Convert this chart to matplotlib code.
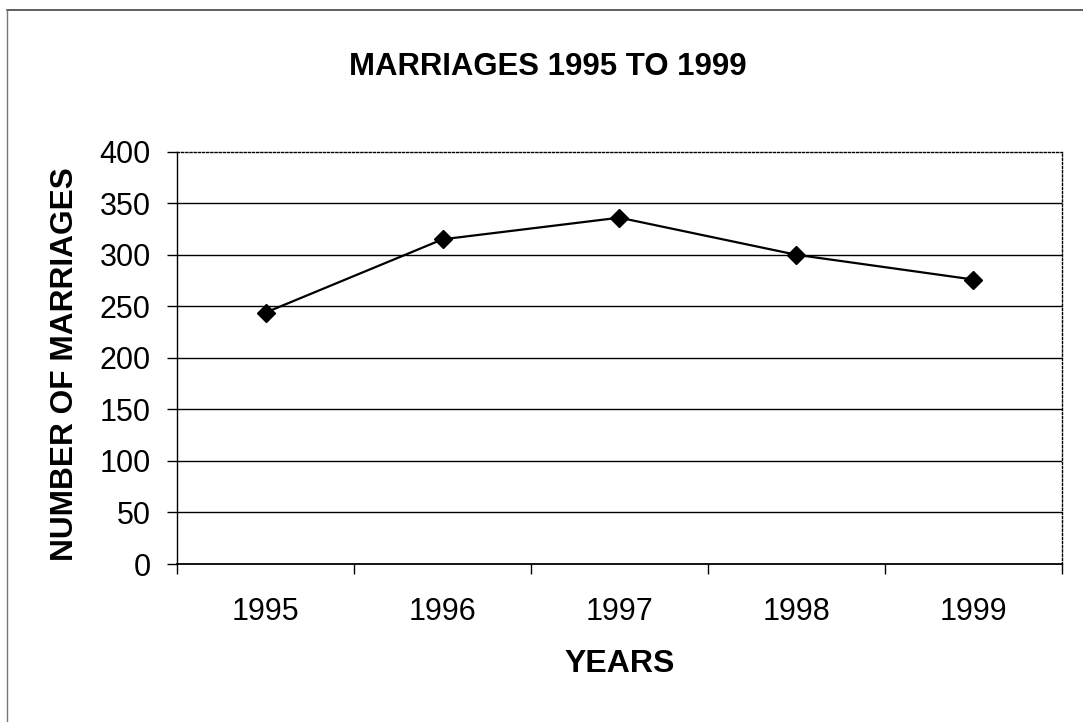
import matplotlib
matplotlib.use("Agg")
import matplotlib.pyplot as plt
from matplotlib.lines import Line2D
import numpy as np

years = ["1995", "1996", "1997", "1998", "1999"]
marriages = [244, 315, 336, 300, 276]
yticks = [0, 50, 100, 150, 200, 250, 300, 350, 400]

plt.rcParams['font.family'] = ['Liberation Sans', 'DejaVu Sans']

fig = plt.figure(figsize=(10.83, 7.22), dpi=100)
ax = fig.add_axes([0.1637, 0.2188, 0.8166, 0.5711])

x = np.arange(len(years))
ax.plot(x, marriages, color='black', lw=1.6, marker='D', ms=9.5, mfc='black', mec='black', zorder=3)

ax.set_xlim(-0.5, len(years) - 0.5)
ax.set_ylim(0, 400)
ax.set_yticks(yticks)
ax.set_yticklabels([str(v) for v in yticks], fontsize=22)
ax.tick_params(axis='y', direction='out', length=7.2, width=1, pad=12)

ax.set_xticks(x)
ax.set_xticklabels(years, fontsize=22)
ax.tick_params(axis='x', which='major', length=0, pad=23.5)
ax.set_xticks(np.arange(len(years) + 1) - 0.5, minor=True)
ax.tick_params(axis='x', which='minor', direction='out', length=7.2, width=1)

for v in yticks[1:-1]:
    ax.axhline(v, color='black', lw=1.0, zorder=1)

ax.spines['top'].set_linestyle((0, (1.5, 1.5)))
ax.spines['right'].set_linestyle((0, (1.5, 1.5)))
ax.spines['top'].set_linewidth(1.0)
ax.spines['right'].set_linewidth(1.0)
ax.spines['left'].set_linewidth(1.0)
ax.spines['bottom'].set_linewidth(1.3)

fig.text(0.506, 0.907, "MARRIAGES 1995 TO 1999", ha='center', va='center', fontsize=22.4, fontweight='bold')
fig.text(0.572, 0.08, "YEARS", ha='center', va='center', fontsize=23, fontweight='bold')
fig.text(0.06, 0.495, "NUMBER OF MARRIAGES", ha='center', va='center', rotation=90, fontsize=22.8, fontweight='bold')

# outer chart border (top and left visible)
fig.add_artist(Line2D([7 / 1083, 1], [1 - 10 / 722, 1 - 10 / 722], transform=fig.transFigure, color='#444444', lw=1.2))
fig.add_artist(Line2D([7 / 1083, 7 / 1083], [0, 1 - 10 / 722], transform=fig.transFigure, color='#777777', lw=1.0))

fig.savefig("out.png", dpi=100)
